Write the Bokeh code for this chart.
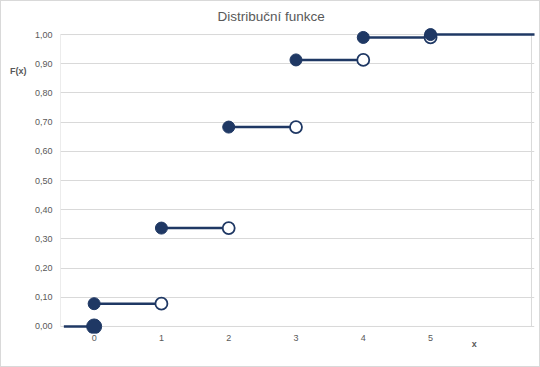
from bokeh.plotting import figure
from bokeh.models import FixedTicker, Range1d, Label
from bokeh.embed import file_html
from bokeh.resources import INLINE

# data
x_vals = [0, 1, 2, 3, 4, 5]
F_vals = [0.078, 0.337, 0.683, 0.913, 0.990, 1.000]
y_ticks = [0.0, 0.1, 0.2, 0.3, 0.4, 0.5, 0.6, 0.7, 0.8, 0.9, 1.0]
y_labels = ["0,00", "0,10", "0,20", "0,30", "0,40", "0,50", "0,60", "0,70", "0,80", "0,90", "1,00"]
x_ticks = [0, 1, 2, 3, 4, 5]
x_labels = ["0", "1", "2", "3", "4", "5"]
title_text = "Distribuční funkce"
x_title = "x"
y_title = "F(x)"

NAVY = "#1F3864"
GRID = "#d9d9d9"
TXT = "#595959"
FONT = "Liberation Sans"

X_MIN, X_MAX = -0.5, 6.5
Y_MIN, Y_MAX = 0.0, 1.0
XR = (-0.5, 6.545)
YR = (-0.0241, 1.0241)

p = figure(width=540, height=367, output_backend="svg", toolbar_location=None,
           x_range=Range1d(*XR), y_range=Range1d(*YR),
           min_border_left=59, min_border_right=7, min_border_top=26, min_border_bottom=35)
p.outline_line_color = None
p.background_fill_color = "white"
p.border_fill_color = "white"
p.styles = {"border": "1px solid #d9d9d9", "box-sizing": "border-box"}

# main title
p.title.text = title_text
p.title.align = "left"
p.title.offset = 157
p.title.text_font = FONT
p.title.text_font_size = "13.5px"
p.title.text_font_style = "normal"
p.title.text_color = TXT
p.title.standoff = 8

# axes
p.xaxis.ticker = FixedTicker(ticks=x_ticks)
p.xaxis.major_label_overrides = {t: l for t, l in zip(x_ticks, x_labels)}
p.yaxis.ticker = FixedTicker(ticks=y_ticks)
p.yaxis.major_label_overrides = {t: l for t, l in zip(y_ticks, y_labels)}
for ax in (p.xaxis, p.yaxis):
    ax.axis_line_color = None
    ax.major_tick_line_color = None
    ax.minor_tick_line_color = None
    ax.major_tick_out = 0
    ax.major_tick_in = 0
    ax.major_label_text_font = FONT
    ax.major_label_text_font_size = "9px"
    ax.major_label_text_color = TXT
p.xaxis.major_label_standoff = 1
p.yaxis.major_label_standoff = 8

p.xgrid.grid_line_color = None
p.ygrid.ticker = FixedTicker(ticks=y_ticks)
p.ygrid.grid_line_color = GRID
p.ygrid.grid_line_width = 1

# axis titles: labels placed in side panels (not clipped to the frame), data units
p.add_layout(Label(x=-1.127, y=0.875, text=y_title, text_align="center", text_baseline="middle",
                   text_font=FONT, text_font_size="9px", text_font_style="bold",
                   text_color=TXT), "left")
p.add_layout(Label(x=5.65, y=-0.06, text=x_title, text_align="center", text_baseline="middle",
                   text_font=FONT, text_font_size="9px", text_font_style="bold",
                   text_color=TXT), "below")

# plot area border (left/right)
p.quad(left=[X_MIN], right=[X_MAX], bottom=[Y_MIN], top=[Y_MAX],
       fill_color=None, line_color=GRID, line_width=1)

# step segments
seg_x0 = [-0.45] + x_vals
seg_x1 = [0] + x_vals[1:] + [6.56]
seg_y = [0.0] + F_vals
p.segment(x0=seg_x0, y0=seg_y, x1=seg_x1, y1=seg_y, line_color=NAVY, line_width=2.5)

# open circles (right limits excluded)
p.scatter(x=x_vals[1:], y=F_vals[:-1], size=12, marker="circle",
          fill_color="white", line_color=NAVY, line_width=1.8)
# filled circles
p.scatter(x=[0], y=[0.0], size=15, marker="circle", fill_color=NAVY, line_color=NAVY)
p.scatter(x=x_vals, y=F_vals, size=12, marker="circle", fill_color=NAVY, line_color=NAVY)

open("out.html", "w").write(file_html(p, INLINE))
